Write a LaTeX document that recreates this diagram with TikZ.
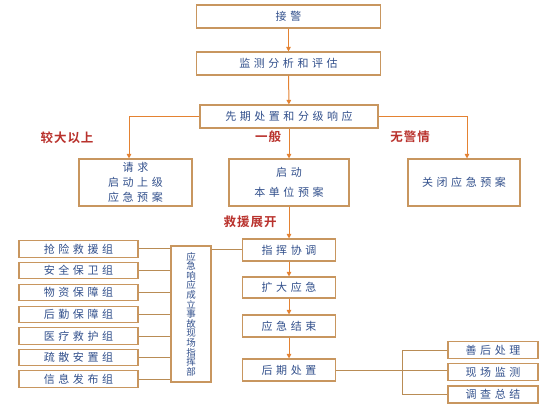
\documentclass[tikz,border=0pt]{standalone}
\usepackage{fontspec}
\newfontfamily\cjk[LetterSpace=32]{Noto Sans CJK SC}
\newfontfamily\cjkv{Noto Sans CJK SC}
\newfontfamily\cjkb[LetterSpace=8]{Noto Sans CJK SC Bold}
\usetikzlibrary{arrows.meta,calc}
\definecolor{boxc}{RGB}{200,150,95}
\definecolor{linec}{RGB}{185,140,85}
\definecolor{arrc}{RGB}{228,130,50}
\definecolor{txtc}{RGB}{50,80,140}
\definecolor{redc}{RGB}{185,50,45}
\tikzset{
  bx/.style={draw=boxc, line width=1.1pt, fill=white, inner sep=0pt, align=center,
    font=\cjk\fontsize{11}{15}\selectfont, text=txtc},
  grp/.style={bx, minimum width=119pt, minimum height=16.5pt},
  rbx/.style={bx, minimum width=90pt, minimum height=17pt},
  arr/.style={draw=arrc, line width=1pt, -{Triangle[length=4.5pt,width=4.5pt]}},
  ln/.style={draw=linec, line width=1pt},
  lbl/.style={font=\cjkb\fontsize{12.5}{14}\selectfont, text=redc, inner sep=0pt}
}
\begin{document}
\begin{tikzpicture}[x=1pt,y=-1pt]
\useasboundingbox (0,0) rectangle (560,406);
% main column
\node[bx, minimum width=184pt, minimum height=23pt] (b1) at (288.5,16.5) {接警};
\node[bx, minimum width=184pt, minimum height=23pt] (b2) at (288.5,63.5) {监测分析和评估};
\node[bx, minimum width=178pt, minimum height=23pt] (b3) at (289,116.5) {先期处置和分级响应};
\node[bx, minimum width=113pt, minimum height=47pt] (req) at (135.5,182.5) {请求\\启动上级\\应急预案};
\node[bx, minimum width=120pt, minimum height=47pt] (loc) at (289,182.5) {启动\\[5pt]本单位预案};
\node[bx, minimum width=112pt, minimum height=47pt] (cls) at (464,182.5) {关闭应急预案};
\node[bx, minimum width=93pt, minimum height=22pt] (cmd) at (289,250) {指挥协调};
\node[bx, minimum width=93pt, minimum height=21pt] (exp) at (289,287.5) {扩大应急};
\node[bx, minimum width=93pt, minimum height=22pt] (fin) at (289,326) {应急结束};
\node[bx, minimum width=93pt, minimum height=22pt] (post) at (289,370) {后期处置};
% labels
\node[lbl] (l1) at (67,138) {较大以上};
\node[lbl] (l2) at (268,137) {一般};
\node[lbl] (l3) at (410,137) {无警情};
\node[lbl] (l4) at (250,222) {救援展开};
% arrows main
\draw[arr] (b1) -- (b2);
\draw[arr] (b2) -- (b3);
\draw[arr] (b3) -- (loc);
\draw[arr] (b3.west) -| ([xshift=-6.5pt]req.north);
\draw[arr] (b3.east) -| ([xshift=3pt]cls.north);
\draw[arr] (loc) -- (cmd);
\draw[arr] (cmd) -- (exp);
\draw[arr] (exp) -- (fin);
\draw[arr] (fin) -- (post);
% left groups
\node[bx, minimum width=40pt, minimum height=136pt, font=\cjkv\fontsize{9.5}{9.6}\selectfont] (hq) at (191,314)
  {应\\急\\响\\应\\成\\立\\事\\故\\现\\场\\指\\挥\\部};
\node[grp] (g1) at (78.5,249) {抢险救援组};
\node[grp] (g2) at (78.5,270.5) {安全保卫组};
\node[grp] (g3) at (78.5,292.5) {物资保障组};
\node[grp] (g4) at (78.5,314.5) {后勤保障组};
\node[grp] (g5) at (78.5,336) {医疗救护组};
\node[grp] (g6) at (78.5,357.5) {疏散安置组};
\node[grp] (g7) at (78.5,379) {信息发布组};
\foreach \g in {g1,g2,g3,g4,g5,g6,g7}{
  \draw[ln] (\g.east) -- (\g.east -| hq.west);
}
\draw[ln] (cmd.west -| hq.east) -- (cmd.west);
% right groups
\node[rbx] (sh) at (493,350) {善后处理};
\node[rbx] (mon) at (493,372) {现场监测};
\node[rbx] (inv) at (493,394.5) {调查总结};
\coordinate (br) at (402,0);
\draw[ln] (post.east) -- (post.east -| mon.west);
\draw[ln] (sh.west) -- (sh.west -| br) -- (inv.west -| br) -- (inv.west);
\end{tikzpicture}
\end{document}
